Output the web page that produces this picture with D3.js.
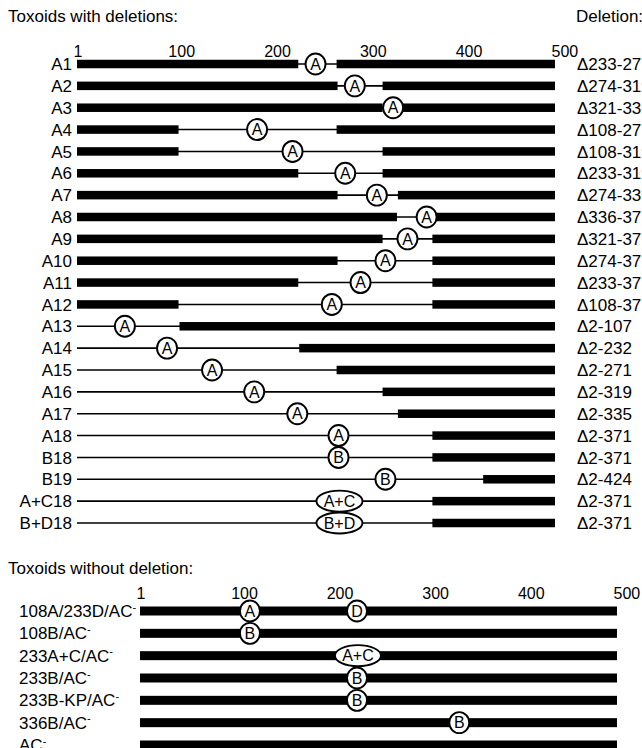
<!DOCTYPE html>
<html>
<head>
<meta charset="utf-8">
<script src="https://cdn.jsdelivr.net/npm/d3@7"></script>
<style>
body { margin: 0; background: #fff; }
svg { display: block; }
text { font-family: "Liberation Sans", Arial, sans-serif; fill: #000; }
</style>
</head>
<body>
<svg></svg>
<script>
// toxoids with deletions
const delRows = ["A1","A2","A3","A4","A5","A6","A7","A8","A9","A10","A11","A12",
                 "A13","A14","A15","A16","A17","A18","B18","B19","A+C18","B+D18"];
const delStart = [233,274,321,108,108,233,274,336,321,274,233,108,2,2,2,2,2,2,2,2,2,2];
const delEnd   = [271,319,335,271,319,319,335,371,371,371,371,371,107,232,271,319,335,371,371,424,371,371];
const delMark  = ["A","A","A","A","A","A","A","A","A","A","A","A",
                  "A","A","A","A","A","A","B","B","A+C","B+D"];
const delMarkPos = [250,291,331,189,226,281,314,366,346,323,297,267,51,95,142,186,231,274,274,323,275,275];

// toxoids without deletion
const fullRows = ["108A/233D/AC","108B/AC","233A+C/AC","233B/AC","233B-KP/AC","336B/AC","AC"];
const fullMarks = [["A","D"],["B"],["A+C"],["B"],["B"],["B"],[]];
const fullMarkPos = [[116,228],[116],[229],[228],[228],[335],[]];

const tickVals = [1,100,200,300,400,500];

var svgWidth = 642, svgHeight = 748;
var svg = d3.select("svg")
            .attr("width", svgWidth)
            .attr("height", svgHeight);

function marker(g, x, y, label) {
  let rx = label.length > 1 ? 23 : 10;
  let ry = 10.5;
  g.append("ellipse")
   .attr("cx", x).attr("cy", y)
   .attr("rx", rx).attr("ry", ry)
   .attr("fill", "#fff").attr("stroke", "#000").attr("stroke-width", 1.9);
  g.append("text")
   .attr("x", x).attr("y", y).attr("dy", "0.36em")
   .attr("text-anchor", "middle")
   .attr("font-size", 16)
   .text(label);
}

function drawAxis(g, scale, y) {
  let ax = g.append("g")
            .attr("transform", `translate(0,${y})`)
            .call(d3.axisTop(scale).tickValues(tickVals).tickSize(0).tickPadding(0));
  ax.attr("font-size", null).attr("font-family", null);
  ax.select(".domain").remove();
  ax.selectAll("text")
    .attr("font-size", 16)
    .attr("text-anchor", "start")
    .attr("dx", -4);
}

// ---- top part ----
var x1 = d3.scaleLinear().domain([1,500]).range([77,555]);
var y1 = d3.scalePoint().domain(delRows).range([64,523]);

svg.append("text").attr("x", 8).attr("y", 22).attr("font-size", 17).text("Toxoids with deletions:");
svg.append("text").attr("x", 576).attr("y", 22).attr("font-size", 17).text("Deletion:");

var topG = svg.append("g");
drawAxis(topG, x1, 57);

delRows.forEach((r,i) => {
  let y = y1(r);
  topG.append("text").attr("x", 72).attr("y", y).attr("dy", "0.36em")
      .attr("text-anchor", "end").attr("font-size", 17).text(r);
  topG.append("line")
      .attr("x1", x1(1)).attr("x2", x1(500)).attr("y1", y).attr("y2", y)
      .attr("stroke", "#000").attr("stroke-width", 1.6);
  let segs = [[1, delStart[i]-1], [delEnd[i]+1, 500]];
  segs.forEach(s => {
    if (s[1] <= s[0]) return;
    topG.append("rect")
        .attr("x", x1(s[0])).attr("width", x1(s[1]) - x1(s[0]))
        .attr("y", y - 4.25).attr("height", 8.5)
        .attr("fill", "#000");
  });
  marker(topG, x1(delMarkPos[i]), y, delMark[i]);
  topG.append("text").attr("x", 577).attr("y", y).attr("dy", "0.36em")
      .attr("font-size", 17).text(`\u0394${delStart[i]}-${delEnd[i]}`);
});

// ---- bottom part ----
var x2 = d3.scaleLinear().domain([1,500]).range([140,617]);
var y2 = d3.scalePoint().domain(fullRows).range([611,745]);

svg.append("text").attr("x", 8).attr("y", 574).attr("font-size", 17).text("Toxoids without deletion:");

var botG = svg.append("g");
drawAxis(botG, x2, 599);

fullRows.forEach((r,i) => {
  let y = y2(r);
  let t = botG.append("text").attr("x", 19).attr("y", y).attr("dy", "0.36em").attr("font-size", 17);
  t.append("tspan").text(r);
  t.append("tspan").attr("font-size", 11).attr("dy", "-0.6em").text("-");
  botG.append("rect")
      .attr("x", x2(1)).attr("width", x2(500) - x2(1))
      .attr("y", y - 4.5).attr("height", 9)
      .attr("fill", "#000");
  fullMarks[i].forEach((m,j) => marker(botG, x2(fullMarkPos[i][j]), y, m));
});
</script>
</body>
</html>
